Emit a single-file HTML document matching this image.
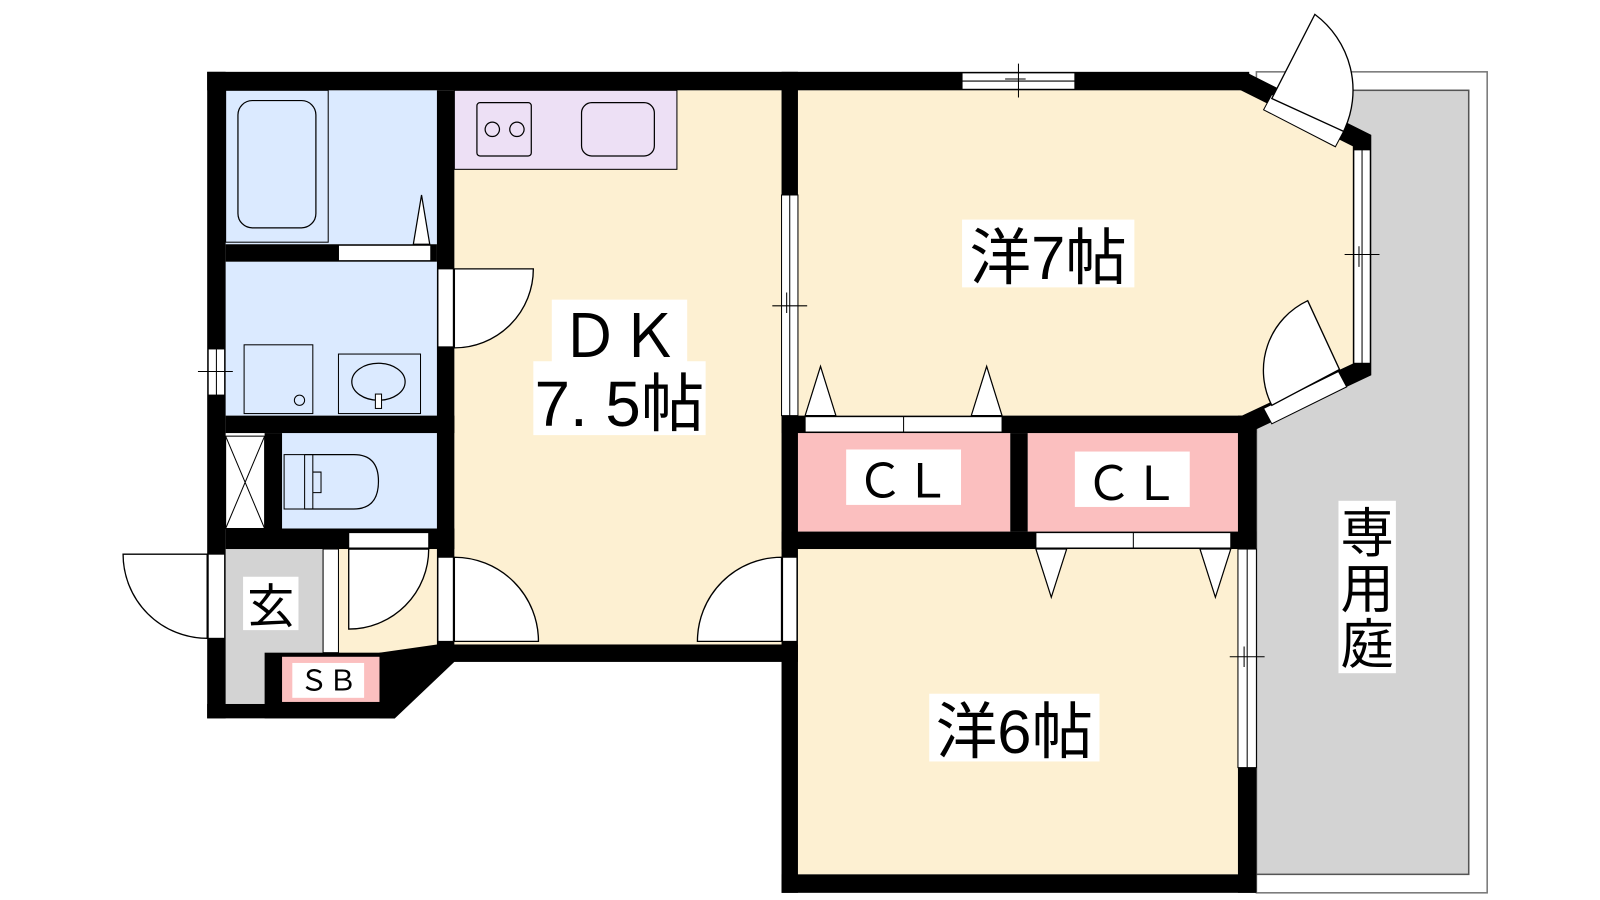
<!DOCTYPE html>
<html><head><meta charset="utf-8"><style>
html,body{margin:0;padding:0;background:#fff;}
svg{display:block;}
text{font-family:"Liberation Sans","Noto Sans CJK JP",sans-serif;fill:#000;}
</style></head><body>
<svg width="1600" height="900" viewBox="0 0 1560 877" preserveAspectRatio="none" xmlns="http://www.w3.org/2000/svg">
<rect x="1225" y="70" width="225" height="800" fill="#fff" stroke="#777" stroke-width="1.5"/>
<rect x="1225" y="88" width="207" height="764" fill="#d3d3d3" stroke="#555" stroke-width="1.5"/>
<rect x="443" y="88" width="319" height="540" fill="#fdf0d2"/>
<polygon points="330,535 426,535 426,632 385,686 330,686" fill="#fdf0d2"/>
<polygon points="778,88 1215,88 1320,140 1320,358 1215,405 778,405" fill="#fdf0d2"/>
<rect x="778" y="535" width="429" height="317" fill="#fdf0d2"/>
<rect x="220" y="88" width="206" height="150" fill="#dbeaff"/>
<rect x="220" y="255" width="206" height="150" fill="#dbeaff"/>
<rect x="275" y="422" width="151" height="96" fill="#dbeaff"/>
<rect x="220" y="535" width="95" height="151" fill="#d3d3d3"/>
<rect x="315" y="535" width="15" height="101" fill="#fff" stroke="#000" stroke-width="1"/>
<rect x="778" y="422" width="207" height="96" fill="#fbbfbf"/>
<rect x="1002" y="422" width="205" height="96" fill="#fbbfbf"/>
<rect x="220" y="425" width="38" height="90" fill="#fff" stroke="#000" stroke-width="1"/>
<path d="M220,425 L258,515 M258,425 L220,515" stroke="#000" stroke-width="1"/>
<rect x="443" y="88" width="217" height="77" fill="#ede0f5" stroke="#000" stroke-width="1"/>
<rect x="465" y="100" width="53" height="52" rx="3" fill="none" stroke="#000" stroke-width="1.2"/>
<circle cx="480" cy="126" r="7" fill="none" stroke="#000" stroke-width="1.2"/>
<circle cx="504" cy="126" r="7" fill="none" stroke="#000" stroke-width="1.2"/>
<rect x="567" y="100" width="71" height="52" rx="10" fill="none" stroke="#000" stroke-width="1.2"/>
<rect x="220" y="88" width="100" height="148" fill="none" stroke="#000" stroke-width="1"/>
<rect x="232" y="98" width="76" height="124" rx="14" fill="none" stroke="#000" stroke-width="1.2"/>
<rect x="238" y="336" width="67" height="67" fill="none" stroke="#000" stroke-width="1"/>
<circle cx="292" cy="390" r="5" fill="none" stroke="#000" stroke-width="1"/>
<rect x="330" y="345" width="80" height="58" fill="none" stroke="#000" stroke-width="1"/>
<ellipse cx="369" cy="372" rx="26" ry="18" fill="none" stroke="#000" stroke-width="1.2"/>
<rect x="366" y="384" width="6" height="14" fill="#fff" stroke="#000" stroke-width="1"/>
<rect x="277" y="443" width="20" height="53" fill="none" stroke="#000" stroke-width="1"/>
<path d="M297,443 L345,443 Q369,443 369,469 Q369,496 345,496 L297,496" fill="none" stroke="#000" stroke-width="1.2"/>
<path d="M305,443 L305,496 M305,460 L313,460 L313,480 L305,480" fill="none" stroke="#000" stroke-width="1"/>
<g fill="#000">
<rect x="202" y="70" width="1016" height="18"/>
<rect x="202" y="70" width="18" height="630"/>
<rect x="202" y="686" width="183" height="14"/>
<rect x="258" y="636" width="127" height="64"/>
<polygon points="370,636 426,628 443,628 443,645 385,700 370,700"/>
<rect x="426" y="628" width="352" height="17"/>
<rect x="426" y="88" width="17" height="544"/>
<rect x="220" y="238" width="206" height="17"/>
<rect x="220" y="405" width="223" height="17"/>
<rect x="258" y="422" width="17" height="96"/>
<rect x="220" y="515" width="223" height="20"/>
<rect x="762" y="70" width="16" height="800"/>
<rect x="762" y="852" width="463" height="18"/>
<rect x="1207" y="405" width="18" height="465"/>
<rect x="762" y="405" width="463" height="17"/>
<rect x="985" y="422" width="17" height="96"/>
<rect x="762" y="518" width="463" height="17"/>
</g>
<rect x="275" y="640" width="95" height="44" fill="#fbbfbf"/>
<path d="M1212,79 L1328,137 L1328,360 L1215,413" fill="none" stroke="#000" stroke-width="18" stroke-linejoin="miter"/>
<g fill="#fff" stroke="#000" stroke-width="1">
<rect x="938" y="71" width="110" height="16"/>
<rect x="203" y="340" width="16" height="45"/>
<rect x="762" y="190" width="16" height="215"/>
<rect x="1320" y="146" width="16" height="208"/>
<rect x="1207" y="535" width="18" height="213"/>
<rect x="330" y="239" width="90" height="15"/>
<rect x="340" y="519" width="78" height="15"/>
<rect x="785" y="406" width="192" height="15"/>
<rect x="1010" y="519" width="190" height="15"/>
<rect x="427" y="262" width="15" height="76"/>
<rect x="427" y="543" width="15" height="82"/>
<rect x="763" y="543" width="14" height="82"/>
<rect x="203" y="540" width="16" height="82"/>
<polygon points="1240,92 1310,128 1302,143 1232,107"/>
<polygon points="1232,398 1305,362 1313,377 1240,413"/>
</g>
<g stroke="#000" stroke-width="1" fill="none">
<path d="M938,79 L1048,79 M993,62 L993,95 M980,77 L1000,77"/>
<path d="M770,190 L770,405 M753,298 L787,298 M767,285 L767,305"/>
<path d="M211,340 L211,385 M193,362 L227,362"/>
<path d="M1328,146 L1328,354 M1311,248 L1345,248 M1325,240 L1325,260"/>
<path d="M1216,535 L1216,748 M1199,640 L1233,640 M1213,630 L1213,650"/>
<path d="M881,406 L881,421 M1105,519 L1105,534"/>
</g>
<g fill="#fff" stroke="#000" stroke-width="1.2">
<polygon points="785,405 800,357 815,405"/>
<polygon points="947,405 962,357 977,405"/>
<polygon points="1010,535 1025,582 1040,535"/>
<polygon points="1170,535 1185,582 1200,535"/>
<polygon points="403,238 411,190 419,238"/>
</g>
<g fill="#fff" stroke="#000" stroke-width="1.3">
<path d="M443,338 L443,262 L520,262 A77,77 0 0 1 443,339 Z"/>
<path d="M443,625 L443,543 A82,82 0 0 1 525,625 Z"/>
<path d="M762,625 L762,543 A82,82 0 0 0 680,625 Z"/>
<path d="M340,535 L418,535 A78,78 0 0 1 340,613 Z"/>
<path d="M202,540 L120,540 A82,82 0 0 0 202,622 Z"/>
<path d="M1240,96 L1282,14 A92,92 0 0 1 1310,128 Z"/>
<path d="M1306,360 L1275,293 A75,75 0 0 0 1240,395 Z"/>
</g>
<g fill="#fff">
<rect x="538" y="292" width="132" height="62"/>
<rect x="520" y="352" width="168" height="72"/>
<rect x="938" y="214" width="168" height="66"/>
<rect x="906" y="676" width="166" height="66"/>
<rect x="825" y="438" width="112" height="54"/>
<rect x="1048" y="440" width="112" height="54"/>
<rect x="1305" y="488" width="56" height="168"/>
<rect x="237" y="562" width="54" height="52"/>
<rect x="285" y="646" width="70" height="34"/>
</g>
<text x="604" y="348" font-size="58" text-anchor="middle">ＤＫ</text>
<text x="604" y="415" font-size="62" text-anchor="middle">7. 5帖</text>
<text x="1022" y="272" font-size="60" text-anchor="middle">洋7帖</text>
<text x="989" y="734" font-size="60" text-anchor="middle">洋6帖</text>
<text x="881" y="485" font-size="46" text-anchor="middle">ＣＬ</text>
<text x="1104" y="487" font-size="46" text-anchor="middle">ＣＬ</text>
<text x="1333" y="538" font-size="52" text-anchor="middle">専</text>
<text x="1333" y="592" font-size="52" text-anchor="middle">用</text>
<text x="1333" y="646" font-size="52" text-anchor="middle">庭</text>
<text x="264" y="607" font-size="46" text-anchor="middle">玄</text>
<text x="320" y="673" font-size="28" text-anchor="middle">ＳＢ</text>
</svg>
</body></html>
